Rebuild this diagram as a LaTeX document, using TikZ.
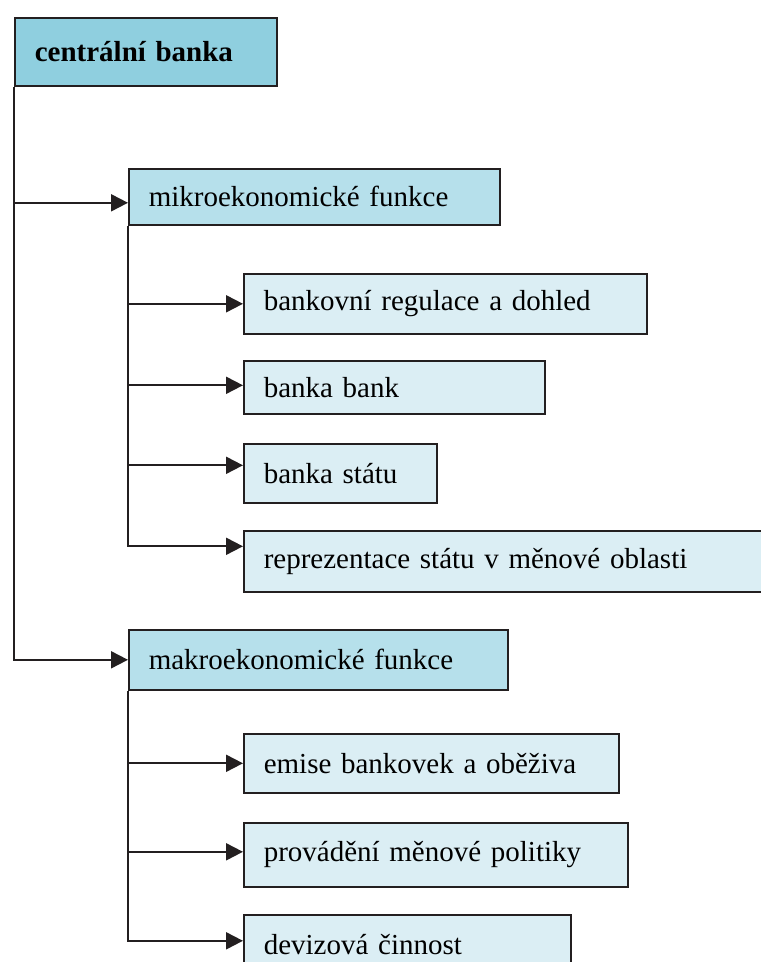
\documentclass[tikz,border=0pt]{standalone}
\usepackage{fontspec}
\setmainfont{Liberation Serif}
\usetikzlibrary{arrows.meta}

\definecolor{topblue}{HTML}{8FCFDF}
\definecolor{midblue}{HTML}{B6E0EB}
\definecolor{lowblue}{HTML}{DBEEF4}
\definecolor{edgegray}{HTML}{231F20}

\tikzset{
  box/.style={draw=edgegray, line width=1.6pt, rectangle, anchor=north west,
    inner xsep=20pt, align=left, font=\fontsize{29}{34}\selectfont},
  topbox/.style={box, fill=topblue, font=\fontsize{29}{34}\selectfont\bfseries},
  midbox/.style={box, fill=midblue},
  lowbox/.style={box, fill=lowblue},
  link/.style={-{Triangle[length=17pt,width=17pt]}, line width=2pt, draw=edgegray}
}

\begin{document}
\begin{tikzpicture}[x=1pt, y=-1pt]
    \useasboundingbox (0,0) rectangle (761,962);
    \clip (0,0) rectangle (761,962);

    % top level
    \node[topbox, minimum height=68pt, text width=222pt] (bank) at (14,17) {centrální banka};

    % two groups of functions
    \node[midbox, minimum height=56pt, text width=331pt] (mikro) at (128,168) {mikroekonomické funkce};
    \node[midbox, minimum height=60pt, text width=339pt] (makro) at (128,629) {makroekonomické funkce};

    % micro
    \node[lowbox, minimum height=60pt, text width=363pt] (dohled) at (243,273) {bankovní regulace a dohled};
    \node[lowbox, minimum height=53pt, text width=261pt] (bankbank) at (243,360) {banka bank};
    \node[lowbox, minimum height=59pt, text width=153pt] (statu) at (243,443) {banka státu};
    \node[lowbox, minimum height=61pt, text width=485pt] (repre) at (243,530) {reprezentace státu v měnové oblasti};

    % macro
    \node[lowbox, minimum height=59pt, text width=335pt] (emise) at (243,733) {emise bankovek a oběživa};
    \node[lowbox, minimum height=64pt, text width=344pt] (politika) at (243,822) {provádění měnové politiky};
    \node[lowbox, minimum height=60pt, text width=287pt] (devizy) at (243,914) {devizová činnost};

    \draw[link] (bank.south west) |- ([yshift=-6pt]mikro.west);
    \draw[link] (bank.south west) |- (makro.west);

    \draw[link] (mikro.south west) |- (dohled.west);
    \draw[link] (mikro.south west) |- ([yshift=2pt]bankbank.west);
    \draw[link] (mikro.south west) |- ([yshift=8pt]statu.west);
    \draw[link] (mikro.south west) |- ([yshift=15pt]repre.west);

    \draw[link] (makro.south west) |- (emise.west);
    \draw[link] (makro.south west) |- ([yshift=3pt]politika.west);
    \draw[link] (makro.south west) |- ([yshift=4pt]devizy.west);
\end{tikzpicture}
\end{document}
